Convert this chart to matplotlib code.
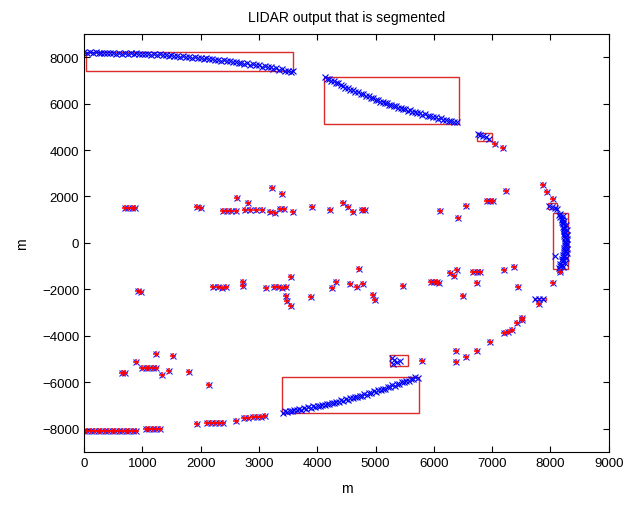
import matplotlib.pyplot as plt
from matplotlib.patches import Rectangle

# segmented scan points (inside the red boxes), two rows per band
seg1_x = [0, 100, 200, 300, 400, 500, 600, 700, 800, 900, 1000, 1100, 1200, 1300, 1400, 1500,
          1600, 1700, 1800, 1900, 2000, 2100, 2200, 2300, 2400, 2500, 2600, 2700, 2800, 2900,
          3000, 3100, 3200, 3300, 3400, 3500, 3580]
seg1_y = [8200, 8200, 8200, 8195, 8190, 8190, 8180, 8175, 8170, 8160, 8150, 8140, 8130, 8115,
          8100, 8085, 8065, 8045, 8020, 8000, 7975, 7950, 7925, 7895, 7865, 7835, 7800, 7765,
          7730, 7690, 7650, 7605, 7560, 7515, 7470, 7420, 7390]
seg1b_x = [50, 150, 250, 350, 450, 550, 650, 750, 850, 950, 1050, 1150, 1250, 1350, 1450, 1550,
           1650, 1750, 1850, 1950, 2050, 2150, 2250, 2350, 2450, 2550, 2650, 2750, 2850, 2950,
           3050, 3150, 3250, 3350, 3450, 3550]
seg1b_y = [8170, 8170, 8165, 8165, 8160, 8155, 8150, 8140, 8135, 8125, 8115, 8105, 8090, 8075,
           8060, 8045, 8025, 8005, 7980, 7960, 7935, 7910, 7880, 7850, 7820, 7785, 7750, 7715,
           7680, 7640, 7595, 7555, 7510, 7460, 7415, 7370]

seg2_x = [4130, 4200, 4280, 4360, 4440, 4520, 4610, 4700, 4790, 4880, 4960, 5040, 5120, 5190,
          5270, 5350, 5430, 5510, 5590, 5670, 5760, 5850, 5940, 6030, 6120, 6210, 6300, 6390]
seg2_y = [7130, 7050, 6960, 6870, 6770, 6680, 6580, 6490, 6400, 6310, 6230, 6150, 6080, 6020,
          5950, 5890, 5830, 5770, 5710, 5650, 5590, 5530, 5470, 5420, 5360, 5310, 5260, 5210]
seg2b_x = [4165, 4240, 4320, 4400, 4480, 4565, 4655, 4745, 4835, 4920, 5000, 5080, 5155, 5230,
           5310, 5390, 5470, 5550, 5630, 5715, 5805, 5895, 5985, 6075, 6165, 6255, 6345]
seg2b_y = [7050, 6965, 6875, 6780, 6685, 6590, 6495, 6405, 6315, 6230, 6150, 6075, 6010, 5945,
           5880, 5820, 5760, 5700, 5640, 5580, 5520, 5460, 5405, 5350, 5295, 5245, 5195]

seg3_x = [6760, 6800, 6850, 6900, 6950]
seg3_y = [4700, 4640, 4600, 4540, 4480]

seg4_x = [7980, 8030, 8080, 8120]
seg4_y = [1600, 1550, 1500, 1440]

seg5_x = [8170, 8210, 8190, 8240, 8220, 8260, 8240, 8280, 8250, 8290, 8260, 8290, 8270, 8290,
          8270, 8290, 8260, 8280, 8250, 8270, 8230, 8250, 8200, 8220, 8160, 8070]
seg5_y = [1250, 1150, 1050, 950, 850, 750, 650, 550, 450, 350, 250, 150, 50, -50, -150, -250,
          -350, -450, -550, -650, -750, -850, -950, -1050, -1150, -560]
seg5b_x = [8150, 8170, 8190, 8200, 8210, 8220, 8230, 8230, 8240, 8240, 8250, 8250, 8250, 8250,
           8240, 8240, 8230, 8220, 8210, 8200, 8190, 8170, 8160, 8140]
seg5b_y = [1200, 1100, 1000, 900, 800, 700, 600, 500, 400, 300, 200, 100, 0, -100, -200, -300,
           -400, -500, -600, -700, -800, -900, -1000, -1100]

seg6_x = [7730, 7800, 7870]
seg6_y = [-2400, -2420, -2400]

seg7_x = [5290, 5320, 5360, 5300, 5420]
seg7_y = [-4950, -5050, -5150, -5200, -5100]

seg8_x = [3410, 3490, 3570, 3650, 3730, 3810, 3890, 3970, 4050, 4130, 4210, 4290, 4370, 4450,
          4530, 4610, 4690, 4770, 4850, 4930, 5010, 5090, 5170, 5250, 5330, 5410, 5490, 5570,
          5650, 5720]
seg8_y = [-7310, -7280, -7250, -7210, -7180, -7140, -7100, -7070, -7030, -6990, -6950, -6900,
          -6850, -6800, -6750, -6700, -6640, -6590, -6530, -6470, -6410, -6350, -6280, -6210,
          -6150, -6080, -6010, -5940, -5870, -5800]
seg8b_x = [3450, 3530, 3610, 3690, 3770, 3850, 3930, 4010, 4090, 4170, 4250, 4330, 4410, 4490,
           4570, 4650, 4730, 4810, 4890, 4970, 5050, 5130, 5210, 5290, 5370, 5450, 5530, 5610,
           5685]
seg8b_y = [-7255, -7225, -7190, -7155, -7120, -7080, -7045, -7010, -6970, -6930, -6885, -6835,
           -6785, -6735, -6685, -6630, -6575, -6520, -6460, -6400, -6340, -6275, -6205, -6140,
           -6075, -6005, -5935, -5865, -5795]

# remaining (unsegmented) points
other_x = [700, 760, 820, 880, 1940, 2000, 2380, 2450, 2520, 2600, 2620, 2810, 2760, 2850,
           2950, 3050, 3220, 3390, 3190, 3280, 3360, 3430, 3580, 3910, 4220, 4440, 4520, 4610,
           4760, 4820, 6100, 6410, 6560, 6910, 6960, 7010, 7230, 7870, 7940, 8040,
           920, 980, 2220, 2290, 2360, 2440, 2730, 2730, 3120, 3260, 3330, 3400, 3470, 3550,
           3460, 3480, 3550, 3890, 4250, 4320, 4560, 4680, 4780, 4710, 4950, 4990, 5470, 5950,
           6000, 6050, 6080, 6280, 6340, 6400, 6680, 6740, 6800, 6740, 7200, 7370, 7440, 6500,
           8160, 8040, 7800, 7050, 7180,
           7520, 7510, 7420, 7210, 7270, 7340, 6960, 6740, 6550, 6380, 6380, 5790,
           650, 700, 890, 1000, 1060, 1120, 1180, 1240, 1230, 1340, 1460, 1530, 1800, 2140,
           0, 60, 120, 180, 240, 300, 360, 420, 480, 540, 600, 660, 720, 780, 840, 900,
           1060, 1120, 1180, 1240, 1300, 1940, 2110, 2180, 2250, 2320, 2390, 2600,
           2750, 2820, 2890, 2960, 3030, 3100]
other_y = [1500, 1500, 1520, 1500, 1540, 1520, 1370, 1370, 1380, 1370, 1920, 1700, 1410, 1410,
           1400, 1410, 2350, 2090, 1330, 1300, 1450, 1450, 1320, 1540, 1410, 1710, 1540, 1320,
           1410, 1430, 1370, 1070, 1580, 1790, 1800, 1790, 2220, 2480, 2180, 1880,
           -2090, -2100, -1920, -1920, -1930, -1920, -1670, -1840, -1960, -1920, -1920, -1930,
           -1920, -1450, -2300, -2520, -2730, -2350, -1960, -1670, -1750, -1880, -1750, -1110,
           -2260, -2480, -1840, -1670, -1700, -1680, -1720, -1300, -1410, -1150, -1240, -1240,
           -1240, -1710, -1150, -1020, -1880, -2300, -1240, -1710, -2650, 4270, 4100,
           -3240, -3330, -3460, -3890, -3840, -3760, -4270, -4650, -4910, -4650, -5120, -5080,
           -5590, -5600, -5120, -5380, -5380, -5390, -5380, -5370, -4780, -5680, -5510, -4870,
           -5550, -6110,
           -8100, -8100, -8100, -8100, -8100, -8100, -8100, -8100, -8100, -8100, -8100, -8100,
           -8100, -8100, -8100, -8100, -8000, -8000, -8000, -8000, -8000, -7810, -7770, -7770,
           -7770, -7760, -7760, -7690, -7540, -7530, -7510, -7500, -7480, -7460]

# red boxes: (x0, y0, x1, y1)
boxes = [(34, 7390, 3583, 8205),
         (4115, 5128, 6430, 7137),
         (6740, 4400, 6990, 4740),
         (7950, 1450, 8120, 1710),
         (8040, -1110, 8300, 1280),
         (7720, -2440, 7920, -2380),
         (5250, -5300, 5560, -4830),
         (3394, -7344, 5742, -5765)]

plt.rcParams['font.family'] = ['Liberation Sans', 'DejaVu Sans']

fig = plt.figure(figsize=(6.33, 5.06), dpi=100)
ax = fig.add_axes([0.1327, 0.105, 0.829, 0.826])

segs = [(seg1_x, seg1_y), (seg1b_x, seg1b_y), (seg2_x, seg2_y), (seg2b_x, seg2b_y),
        (seg3_x, seg3_y), (seg4_x, seg4_y), (seg5_x, seg5_y), (seg5b_x, seg5b_y),
        (seg6_x, seg6_y), (seg7_x, seg7_y), (seg8_x, seg8_y), (seg8b_x, seg8b_y)]
for sx, sy in segs:
    ax.plot(sx, sy, 'x', color='#0000ff', markersize=4.8, markeredgewidth=0.8)

ax.plot(other_x, other_y, 'x', color='#2020ff', markersize=4.8, markeredgewidth=0.8)
ax.plot(other_x, other_y, '+', color='#ff0000', markersize=4, markeredgewidth=1.1)

for x0, y0, x1, y1 in boxes:
    ax.add_patch(Rectangle((x0, y0), x1 - x0, y1 - y0, fill=False,
                           edgecolor='#dd2a2a', linewidth=1.0))

ax.set_xlim(0, 9000)
ax.set_ylim(-9000, 9000)
ax.set_xticks(range(0, 9001, 1000))
ax.set_yticks(range(-8000, 8001, 2000))
ax.tick_params(direction='in', top=True, right=True, length=4, width=0.8, labelsize=9.5)
for s in ax.spines.values():
    s.set_linewidth(0.8)

ax.set_title('LIDAR output that is segmented', fontsize=10, pad=9)
ax.set_xlabel('m', fontsize=10, labelpad=9)
ax.set_ylabel('m', fontsize=10, labelpad=9)

fig.savefig('out.png', dpi=100)
